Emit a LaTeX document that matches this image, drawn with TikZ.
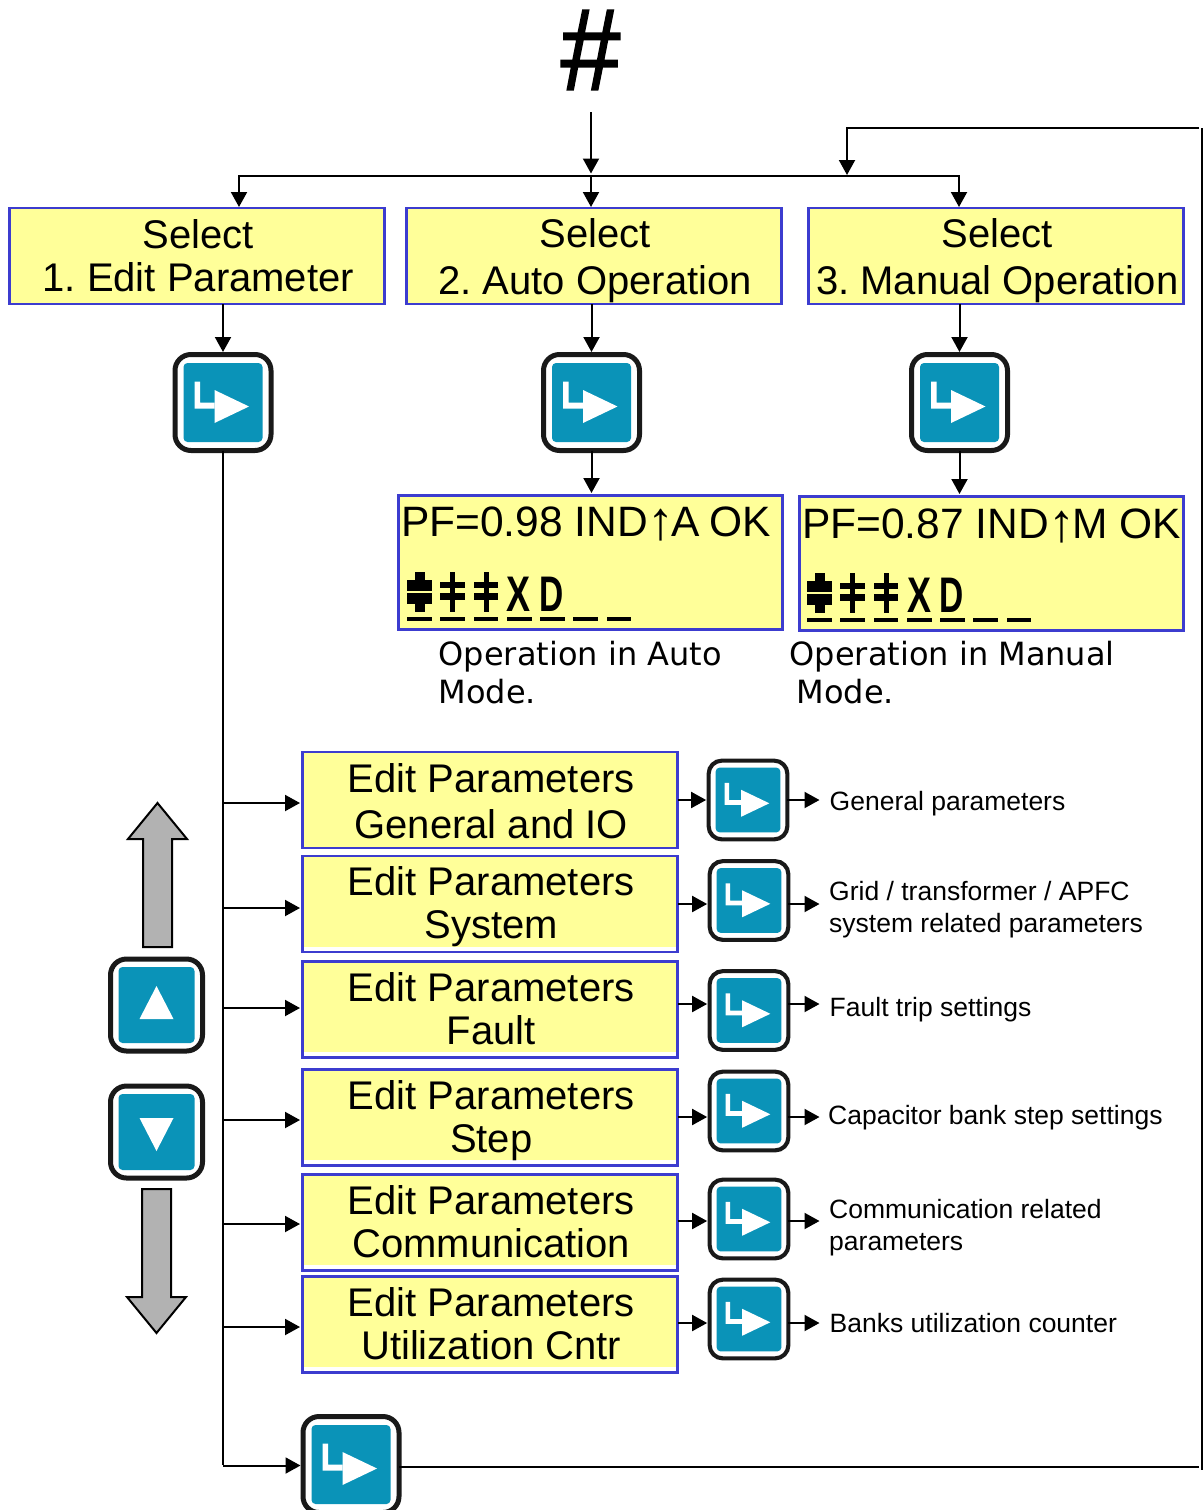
\documentclass[tikz,border=0pt]{standalone}
\usepackage{fontspec}
\setmainfont{Liberation Sans}
\newfontfamily\verafont{DejaVu Sans}
\newfontfamily\hashfont[FakeBold=1.6]{Liberation Sans}
\usetikzlibrary{positioning}
\usetikzlibrary{arrows.meta}

\definecolor{panelblue}{HTML}{3C3CCF}
\definecolor{panelfill}{HTML}{FFFF99}
\definecolor{keyblue}{HTML}{0A93B8}
\definecolor{arrowgray}{HTML}{B2B2B2}

% two lines with a fixed top and bottom, so all panels centre alike
\newcommand{\twolines}[3][0pt]{\rule{0pt}{\dimexpr35pt+#1\relax}\hspace*{2.5pt}#2\\[#1]\hspace*{2.5pt}#3\rule[-8pt]{0pt}{8pt}}
\newcommand{\lcdarrow}{\kern-1pt{\fontsize{54}{48}\selectfont\raisebox{-3pt}{↑}}\kern-3pt}

\tikzset{
  panel/.style={draw=panelblue, fill=panelfill, line width=2.5pt, inner sep=0pt, outer sep=0pt,
    minimum width=375pt, minimum height=96pt, align=center, font=\frenchspacing\fontsize{40}{43}\selectfont},
  editpanel/.style={panel, path picture={
    \fill[white] (path picture bounding box.south west) rectangle ++(4.5,46);
    \fill[white] (path picture bounding box.south west) rectangle ++(375,-5.5);}},
  lcdpanel/.style={panel, minimum width=384pt, minimum height=134pt},
  keyface/.style={draw=black!90, fill=white, line width=5*#1pt, rounded corners=16*#1pt, inner sep=0pt,
    outer sep=0pt, minimum size=96*#1pt},
  enterkey/.style={keyface=#1, path picture={
    \begin{scope}[shift={(path picture bounding box.center)}, x=#1pt, y=-#1pt, sharp corners]
      \fill[keyblue, rounded corners=4pt] (-39.5,-39.5) rectangle (39.5,39.5);
      \fill[white] (-28.5,-21) -- (-23,-21) -- (-23,0) -- (-8.5,0) -- (-8.5,6) -- (-28.5,6) -- cycle;
      \fill[white] (-8.5,-12.5) -- (26,4) -- (-8.5,20.5) -- cycle;
    \end{scope}}},
  upkey/.style={keyface=1, minimum size=92pt, path picture={
    \begin{scope}[shift={(path picture bounding box.center)}, sharp corners]
      \fill[keyblue, rounded corners=4pt] (-38,-38) rectangle (38,38);
      \fill[white] (0,-19) -- (17,14) -- (-17,14) -- cycle;
    \end{scope}}},
  downkey/.style={keyface=1, minimum size=92pt, path picture={
    \begin{scope}[shift={(path picture bounding box.center)}, sharp corners]
      \fill[keyblue, rounded corners=4pt] (-38,-38) rectangle (38,38);
      \fill[white] (0,19) -- (17,-14) -- (-17,-14) -- cycle;
    \end{scope}}},
  flow/.style={line width=2pt, shorten >=2.5pt, -{Triangle[length=15pt,width=16pt]}},
  plainline/.style={line width=2pt},
  note/.style={anchor=west, inner sep=0pt, align=left, font=\fontsize{26.5}{32}\selectfont},
  modetext/.style={anchor=west, inner sep=0pt, align=left, font=\verafont\fontsize{32}{38}\selectfont},
  lcdtext/.style={anchor=base west, inner sep=0pt, font=\fontsize{42.5}{48}\selectfont},
  lcdchar/.style={inner sep=0pt, font=\bfseries\fontsize{50}{50}\selectfont},
  bigarrow/.pic={
    \draw[fill=arrowgray, line width=2pt, miter limit=3] (0,-72) -- (29.5,-36) -- (14.5,-36) -- (14.5,72)
      -- (-14.5,72) -- (-14.5,-36) -- (-29.5,-36) -- cycle;
  },
  lcdrow/.pic={
    % seven character cells, all underlined
    \foreach \c in {0,33.3,66.6,100,133,166,199.5}
      \fill ([xshift=\c pt]0,0) rectangle ++(24.5,-4.5);
    % first cell is a solid step
    \fill (8,-9) rectangle (18,-49);
    \fill (0,-17) rectangle (24.5,-41);
    \fill[panelfill] (0,-28) rectangle (24.5,-30);
    % next two cells are open steps
    \foreach \c in {33.3,66.6} {
      \fill ([xshift=\c pt]10,-9) rectangle ++(5,-40);
      \fill ([xshift=\c pt]0,-21) rectangle ++(24.5,-7);
      \fill ([xshift=\c pt]0,-33) rectangle ++(24.5,-6);
    }
    \node[lcdchar] (-x) at (112,-26.5) {\scalebox{0.72}[1]{X}};
    \node[lcdchar] (-d) at (145,-26.5) {\scalebox{0.67}[1]{D}};
  }
}

\begin{document}
\begin{tikzpicture}[x=1pt, y=-1pt]
  \useasboundingbox (0,0) rectangle (1203,1510);

  \node[font=\hashfont\fontsize{116}{116}\selectfont, inner sep=0pt] (hash) at (590.5,50) {\scalebox{0.92}[1]{\#}};
  \coordinate (start) at (591,112);

  % select row
  \node[panel] (selecta) at (197,256) {\twolines{Select}{1. Edit Parameter}};
  \node[panel] (selectb) at (594,256) {\twolines[4pt]{Select}{2. Auto Operation}};
  \node[panel] (selectc) at (996,256) {\twolines[4pt]{Select}{3. Manual Operation}};

  \node[enterkey=1] (keya) at (223,402.5) {};
  \node[enterkey=1] (keyb) at (591.5,402.5) {};
  \node[enterkey=1] (keyc) at (959.5,402.5) {};

  % displays
  \node[lcdpanel] (lcda) at (590.5,562.5) {};
  \node[lcdpanel, right=17pt of lcda, yshift=-1pt] (lcdb) {};
  \node[lcdtext] (lcdatxt) at (401,536) {PF=0.98 IND\lcdarrow A\kern-2pt\ OK};
  \node[lcdtext] (lcdbtxt) at (802,538) {PF=0.87 IND\lcdarrow M OK};
  \pic (rowa) at (407,621) {lcdrow};
  \pic (rowb) at (807,622) {lcdrow};

  \node[modetext] (autotxt) at (438.5,672.5) {Operation in Auto\\Mode.};
  \node[modetext] (mantxt) at (789.5,672.5) {Operation in Manual\\[0pt]\hspace{7pt}Mode.};

  % edit parameter stack
  \node[panel] (edita) at (490,800) {\twolines[3pt]{Edit Parameters}{General and IO}};
  \node[editpanel, below=8pt of edita] (editb) {\twolines{Edit Parameters}{System}};
  \node[editpanel, below=9.5pt of editb] (editc) {\twolines{Edit Parameters}{Fault}};
  \node[editpanel, below=12pt of editc] (editd) {\twolines{Edit Parameters}{Step}};
  \node[editpanel, below=9pt of editd] (edite) {\twolines{Edit Parameters}{Communication}};
  \node[editpanel, below=6pt of edite] (editf) {\twolines{Edit Parameters}{Utilization Cntr}};

  \node[enterkey=0.82] (keyga) at (748,800) {};
  \node[enterkey=0.82] (keygb) at (749,900.5) {};
  \node[enterkey=0.82] (keygc) at (749,1010.5) {};
  \node[enterkey=0.82] (keygd) at (749,1111) {};
  \node[enterkey=0.82] (keyge) at (749,1219) {};
  \node[enterkey=0.82] (keygf) at (749,1319) {};

  \node[note] (notea) at (829.5,804) {General parameters};
  \node[note] (noteb) at (829,910) {Grid / transformer / APFC\\system related parameters};
  \node[note] (notec) at (829.5,1010) {Fault trip settings};
  \node[note] (noted) at (828,1118) {Capacitor bank step settings};
  \node[note] (notee) at (829,1228) {Communication related\\parameters};
  \node[note] (notef) at (829.5,1323) {Banks utilization counter};

  % up and down keys
  \node[upkey] (keyup) at (156.5,1005) {};
  \node[downkey] (keydown) at (156.5,1132) {};
  \pic at (157.5,875) {bigarrow};
  \pic[rotate=180] at (156.5,1261) {bigarrow};

  \node[enterkey=1] (keyexit) at (351,1464.5) {};

  % connectors
  \coordinate (bus) at (591,176);
  \draw[flow] (start) -- (bus);
  \draw[flow, shorten >=1pt] (bus) -- (bus |- selectb.north);
  \draw[flow, shorten >=1pt] (bus) -| (239,208);
  \draw[flow, shorten >=1pt] (bus) -| (959,208);
  \draw[flow] (keya.north |- selecta.south) -- (keya.north);
  \draw[flow] (keyb.north |- selectb.south) -- (keyb.north);
  \draw[flow] (keyc.north |- selectc.south) -- (keyc.north);
  \draw[flow] (keyb.south) -- (keyb.south |- lcda.north);
  \draw[flow] (keyc.south) -- (keyc.south |- lcdb.north);

  \draw[plainline] (keya.south) -- (223,1465);
  \foreach \row/\ypos in {a/803, b/908, c/1008, d/1120, e/1224, f/1327}
    \draw[flow] (223,\ypos) -- (edit\row.west |- 0,\ypos);
  \draw[flow] (223,1465.5) -- (keyexit.west |- 0,1465.5);

  \foreach \row/\ypos in {a/800, b/904, c/1004, d/1117, e/1221, f/1323} {
    \draw[flow] (edit\row.east |- 0,\ypos) -- (keyg\row.west |- 0,\ypos);
    \draw[flow] (keyg\row.east |- 0,\ypos) -- (822,\ypos);
  }

  \coordinate (rimbot) at (1199,1467);
  \coordinate (rimtop) at (1199,128);
  \draw[plainline] (keyexit.east |- rimbot) -- (rimbot);
  \draw[line width=1.5pt] (1202,128) -- (1202,1470);
  \draw[flow] (rimtop) -| (847,177.5);
\end{tikzpicture}
\end{document}
